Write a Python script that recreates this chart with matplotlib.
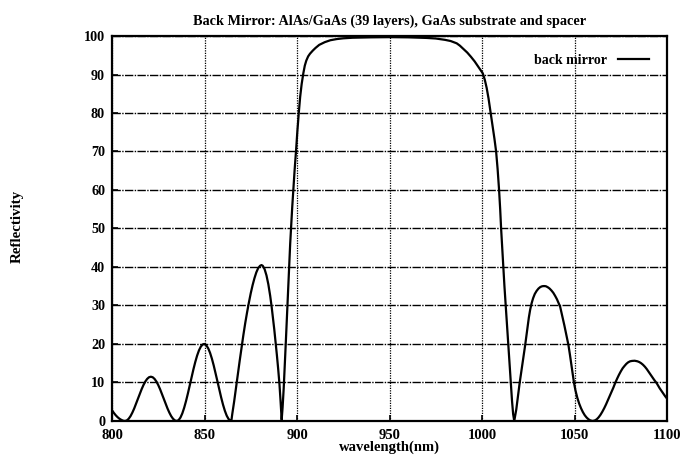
import matplotlib
matplotlib.use("Agg")
import matplotlib.pyplot as plt

plt.rcParams['font.family'] = ['Liberation Serif', 'DejaVu Serif']
plt.rcParams['font.weight'] = 'bold'

# Reflectivity spectrum of the back mirror (wavelength in nm, reflectivity in %)
wavelength = [
    # short-wavelength side lobes
    800, 801, 802, 803, 804, 805, 806, 807,
    808, 809, 810, 811, 812, 813, 814, 815, 816, 817, 818, 819, 820, 821,
    822, 823, 824, 825, 826, 827, 828, 829, 830, 831, 832, 833, 834, 835,
    836, 837, 838, 839, 840, 841, 842, 843, 844, 845, 846, 847, 848, 849, 849.75,
    850, 851, 852, 853, 854, 855, 856, 857, 858, 859, 860, 861, 862, 863, 864, 864.5,
    865, 866, 867, 868, 869, 870, 871, 872, 873, 874, 875, 876, 877, 878, 879, 880,
    880.8, 881.5, 882.5, 883.5, 884.5, 885.5, 886.3, 887, 887.7, 888.4, 889.1,
    889.8, 890.5, 891.1, 891.7,
    # stop band
    892.2, 892.8, 893.4, 893.9, 894.5, 895.1, 895.7, 896.3, 896.8, 897.4, 898,
    898.7, 899.5, 900.2, 901, 901.7, 902.5, 903.4, 904.2, 905, 906, 907, 908.5,
    910, 912, 915, 918, 921.4, 925, 930, 940, 950, 960, 970, 975, 980, 983,
    986.3, 988, 990, 992, 994, 996, 998, 999.5, 1000.4, 1001.5, 1002.5, 1003.5,
    1004.7, 1005.7, 1006.7, 1007.6, 1008.4, 1009.2, 1009.8, 1010.3, 1010.9,
    1011.5, 1012.1, 1012.8, 1013.5, 1014.2, 1014.9, 1015.5, 1016.2, 1016.8, 1017.4,
    # long-wavelength side lobes
    1018.5, 1019.4, 1020.3, 1021.8, 1023.3, 1024.6, 1025.3, 1026, 1026.8, 1027.6,
    1028.5, 1029.5, 1030.5, 1031.5, 1032.5, 1033.5, 1034.5, 1035.5, 1036.5,
    1037.5, 1038.5, 1039.5, 1040.5, 1041.3, 1042.2, 1043.3, 1044.5, 1045.6,
    1046.7, 1047.5, 1048.2, 1049, 1049.7, 1050.5, 1051.5, 1052.5, 1053.5, 1054.5,
    1055.5, 1056.5, 1057.5, 1058.5, 1059.8,
    1061, 1062, 1063, 1064, 1065, 1066, 1067, 1068, 1069, 1070, 1071, 1071.9,
    1073, 1074, 1075, 1076, 1077, 1078, 1079, 1080, 1081, 1082.5, 1084, 1085,
    1086, 1087, 1088, 1089, 1090, 1091, 1092, 1093, 1094.4, 1095, 1096, 1097,
    1098, 1099, 1100,
]
reflectivity = [
    2.8, 2.1, 1.5, 1.0, 0.6, 0.3, 0.08, 0.0,
    0.14, 0.57, 1.25, 2.17, 3.25, 4.47, 5.75, 7.03, 8.24, 9.33, 10.25, 10.93, 11.36, 11.5,
    11.36, 10.93, 10.25, 9.33, 8.24, 7.03, 5.75, 4.47, 3.25, 2.17, 1.25, 0.57, 0.14, 0.0,
    0.23, 0.89, 1.97, 3.42, 5.16, 7.11, 9.2, 11.33, 13.4, 15.31, 16.98, 18.33, 19.31, 19.87, 20.0,
    19.99, 19.65, 18.87, 17.7, 16.18, 14.37, 12.37, 10.27, 8.15, 6.11, 4.25, 2.65, 1.38, 0.51, 0.06, 0.0,
    1.8, 5.0, 8.6, 12.2, 15.6, 19.0, 22.3, 25.4, 28.2, 30.8, 33.2, 35.3, 37.1, 38.6, 39.7, 40.3,
    40.5, 40.3, 39.4, 37.8, 35.5, 32.5, 29.6, 26.8, 23.8, 20.6, 17.2,
    13.6, 9.6, 5.2, 0.3,
    3.5, 8.5, 14.5, 20.0, 26.5, 33.5, 40.0, 46.0, 50.5, 55.5, 60.0,
    65.2, 70.4, 75.4, 80.3, 84.2, 87.5, 90.3, 92.3, 93.6, 94.7, 95.4, 96.2,
    96.9, 97.7, 98.4, 98.9, 99.2, 99.4, 99.55, 99.65, 99.7, 99.65, 99.5, 99.35, 99.0, 98.7,
    98.1, 97.5, 96.6, 95.7, 94.6, 93.4, 92.0, 91.0, 90.3, 88.6, 86.5, 83.8,
    79.9, 76.6, 73.3, 70.0, 65.5, 60.0, 55.0, 50.0, 45.0,
    40.0, 35.0, 29.9, 24.8, 19.7, 14.6, 9.8, 5.2, 1.8, 0.0,
    3.0, 6.3, 9.8, 14.8, 19.7, 24.4, 26.9, 28.9, 30.6, 31.9,
    33.0, 33.8, 34.4, 34.8, 35.0, 35.05, 35.0, 34.75, 34.4,
    33.9, 33.3, 32.5, 31.6, 30.7, 29.7, 27.4, 24.8, 22.3,
    19.7, 17.2, 14.8, 12.2, 9.9, 7.9, 6.0, 4.5, 3.3, 2.3,
    1.5, 0.9, 0.45, 0.15, 0.0,
    0.15, 0.45, 0.95, 1.6, 2.4, 3.3, 4.3, 5.4, 6.5, 7.6, 8.7, 9.8,
    11.0, 12.0, 12.9, 13.7, 14.3, 14.85, 15.25, 15.5, 15.6, 15.65, 15.5, 15.3,
    15.0, 14.6, 14.1, 13.5, 12.8, 12.1, 11.4, 10.7, 9.8, 9.3, 8.5, 7.8,
    7.1, 6.4, 5.8,
]

x_ticks = [800, 850, 900, 950, 1000, 1050, 1100]
y_ticks = [0, 10, 20, 30, 40, 50, 60, 70, 80, 90, 100]

fig = plt.figure(figsize=(6.8, 4.61), dpi=100)
ax = fig.add_axes([0.1647, 0.0868, 0.8163, 0.8351])

ax.plot(wavelength, reflectivity, color='black', lw=1.6, label='back mirror',
        zorder=3, solid_joinstyle='round')

ax.set_xlim(800, 1100)
ax.set_ylim(0, 100)
ax.set_xticks(x_ticks)
ax.set_yticks(y_ticks)
ax.tick_params(direction='in', length=4, width=1.2, labelsize=10.5)
ax.tick_params(axis='x', pad=6)
ax.tick_params(axis='y', pad=5, labelsize=10.2)
for lab in ax.get_xticklabels() + ax.get_yticklabels():
    lab.set_fontweight('bold')

for s in ax.spines.values():
    s.set_linewidth(1.6)

ax.yaxis.grid(True, color='black', lw=1.0, linestyle=(0, (6, 1, 1, 1)))
ax.xaxis.grid(True, color='black', lw=0.9, linestyle=(0, (1, 1)))
ax.set_axisbelow(True)

ax.set_title('Back Mirror: AlAs/GaAs (39 layers), GaAs substrate and spacer',
             fontsize=10.3, fontweight='bold', pad=8)
ax.set_xlabel('wavelength(nm)', fontsize=10.5, fontweight='bold', labelpad=-1)
fig.text(0.026, 0.508, 'Reflectivity', rotation=90, fontsize=10.8,
         fontweight='bold', ha='center', va='center')

leg = ax.legend(loc='upper right', frameon=False, markerfirst=False,
                fontsize=10, handlelength=2.2, borderaxespad=0.9)
for t in leg.get_texts():
    t.set_fontweight('bold')

fig.savefig('out.png', dpi=100)
